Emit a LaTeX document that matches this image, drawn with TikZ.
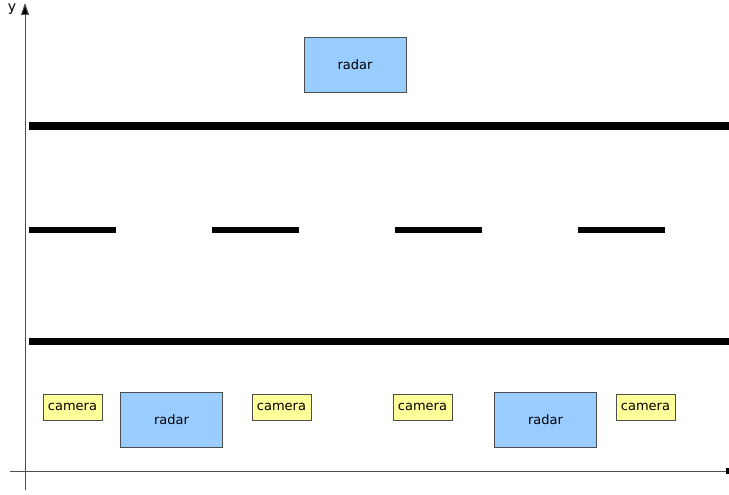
\documentclass[tikz,border=0pt]{standalone}
\usepackage{fontspec}
\setmainfont{DejaVu Sans}
\usetikzlibrary{arrows.meta}
\definecolor{radarblue}{HTML}{99CCFF}
\definecolor{camyellow}{HTML}{FFFF99}
\definecolor{edgegray}{HTML}{4D4D4D}
\begin{document}
\begin{tikzpicture}[x=1pt,y=-1pt,
  lane/.style={line width=7pt},
  dashmark/.style={line width=6pt},
  axis/.style={draw=edgegray,line width=1pt},
  radarbox/.style={draw=edgegray,fill=radarblue,line width=0.8pt,minimum width=102pt,minimum height=55pt,inner sep=0pt,font=\fontsize{13}{15}\selectfont},
  cambox/.style={draw=edgegray,fill=camyellow,line width=0.8pt,minimum width=59pt,minimum height=26pt,inner sep=0pt,font=\fontsize{13}{15}\selectfont}]
\useasboundingbox (0,0) rectangle (729,495);
% axes
\coordinate (xs) at (10,471);
\coordinate (xe) at (726,471);
\coordinate (ys) at (25,490);
\coordinate (ye) at (25,3);
\draw[axis] (xs) -- (xe);
\fill (726,468) rectangle (729,474);
\draw[axis,-{Triangle[length=12pt,width=8pt,fill=black]}] (ys) -- (ye);
\node[font=\fontsize{14}{16}\selectfont,inner sep=0pt] (ylab) at (12,9) {y};
% road edges
\draw[lane] (29,126) -- (729,126);
\draw[lane] (29,341) -- (729,341);
% centre dashes
\foreach \a in {29,212,395,578}
  \draw[dashmark] (\a,229.5) -- ({\a+87},229.5);
% sensors
\node[radarbox] (r1) at (355,64.5) {radar};
\node[radarbox] (r2) at (171.5,420) {radar};
\node[radarbox] (r3) at (545.5,420) {radar};
\node[cambox] (c1) at (72.5,407) {camera};
\node[cambox] (c2) at (281.5,407) {camera};
\node[cambox] (c3) at (422.5,407) {camera};
\node[cambox] (c4) at (645.5,407) {camera};
\end{tikzpicture}
\end{document}
